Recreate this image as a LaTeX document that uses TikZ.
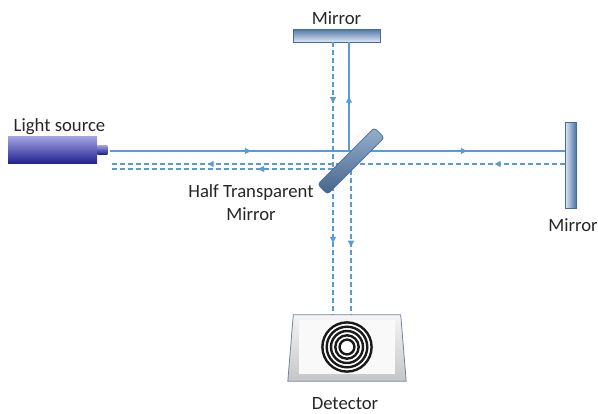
\documentclass[tikz,border=0pt]{standalone}
\usepackage{fontspec}
\setmainfont{Carlito}
\usetikzlibrary{arrows.meta}
\usetikzlibrary{positioning}
\usetikzlibrary{decorations.markings}

\definecolor{beamblue}{RGB}{91,155,213}
\definecolor{mirrorblue}{RGB}{70,108,158}
\definecolor{mirrordark}{RGB}{78,116,166}
\definecolor{mirrorlight}{RGB}{222,232,244}
\definecolor{sourcelight}{RGB}{165,165,228}
\definecolor{sourcedark}{RGB}{36,36,146}
\definecolor{detedge}{RGB}{112,132,164}
\definecolor{splitmid}{RGB}{215,228,240}
\definecolor{splittop}{RGB}{150,175,205}
\definecolor{splitbottom}{RGB}{70,100,140}

\begin{document}
\begin{tikzpicture}[
		x=1pt, y=-1pt,
		lbl/.style={font=\fontsize{18.7}{23.7}\selectfont, text=black!85, inner sep=0pt, text depth=0pt},
		beam/.style={beamblue, line width=1.2pt},
		back/.style={beam, dash pattern=on 5pt off 3pt},
		arrowat/.style={postaction={decorate, decoration={markings, mark=at position #1 with {\arrow{Triangle[length=6pt, width=6pt]}}}}},
		mirrorbox/.style={draw=mirrorblue, line width=0.8pt, inner sep=0pt}
	]
	\useasboundingbox (0,0) rectangle (598,413);

	% light source
	\node[inner sep=0pt, minimum width=89pt, minimum height=27pt, top color=sourcelight, bottom color=sourcedark] (source) at (52.5,149.5) {};
	\node[inner sep=0pt, minimum width=10pt, minimum height=9pt, top color=sourcelight, bottom color=sourcedark, right=0pt of source] (nozzle) {};
	\node[lbl, above=4pt of source, xshift=7pt] (sourcelabel) {Light source};

	% mirrors
	\node[mirrorbox, minimum width=87pt, minimum height=13pt, top color=mirrordark, bottom color=mirrorlight] (topmirror) at (336.5,35.5) {};
	\node[lbl, above=4pt of topmirror] (toplabel) {Mirror};
	\node[mirrorbox, minimum width=11pt, minimum height=86pt, left color=mirrorlight, right color=mirrordark] (rightmirror) at (570.5,165) {};
	\node[lbl, below=9.6pt of rightmirror, xshift=2.5pt] (rightlabel) {Mirror};

	% detector
	\node[inner sep=0pt, minimum width=118pt, minimum height=66pt] (detector) at (347,348) {};
	\draw[detedge, line width=0.8pt, top color=gray!8, bottom color=gray!45]
		([xshift=5.5pt]detector.north west) -- ([xshift=-5.5pt]detector.north east)
		-- (detector.south east) -- (detector.south west) -- cycle;
	\node[inner sep=0pt, minimum width=96pt, minimum height=54pt, fill=gray!5] (face) at (347,347) {};
	\fill[white] (face.center) circle (26);
	\foreach \r in {7.4,11.7,16,20.3,24.6}
		\draw[line width=2.4pt, black!90] (face.center) circle (\r);
	\node[lbl, below=16pt of detector, xshift=-2pt] (detlabel) {Detector};

	% beam points
	\coordinate (srcA) at (110,151);
	\coordinate (srcB) at (110,164);
	\coordinate (srcC) at (110,169);
	\coordinate (hitA) at (349,151);
	\coordinate (hitB) at (333,169);
	\coordinate (hitC) at (351,170);

	% outgoing beams
	\draw[beam, arrowat=0.31, arrowat=0.785] (srcA) -- (rightmirror.west |- srcA);
	\draw[beam, arrowat=0.5] (hitA) -- (topmirror.south -| hitA);
	% returning beams
	\draw[back, arrowat=0.154, arrowat=0.785] (rightmirror.west |- srcB) -- (srcB);
	\draw[back, arrowat=0.336] (hitB) -- (srcC);
	\draw[back, arrowat=0.223, arrowat=0.736] (topmirror.south -| hitB) -- (detector.north -| hitB);
	\draw[back, arrowat=0.53] (hitC) -- (detector.north -| hitC);

	% beam splitter
	\node[draw=mirrorblue, line width=0.8pt, rounded corners=3pt, inner sep=0pt, minimum width=80pt, minimum height=14pt, rotate=45,
		top color=splittop, middle color=splitmid, bottom color=splitbottom] (splitter) at (351,161) {};
	\node[lbl, align=center, anchor=south] (splitlabel) at (251,221) {Half Transparent\\Mirror};
\end{tikzpicture}
\end{document}
